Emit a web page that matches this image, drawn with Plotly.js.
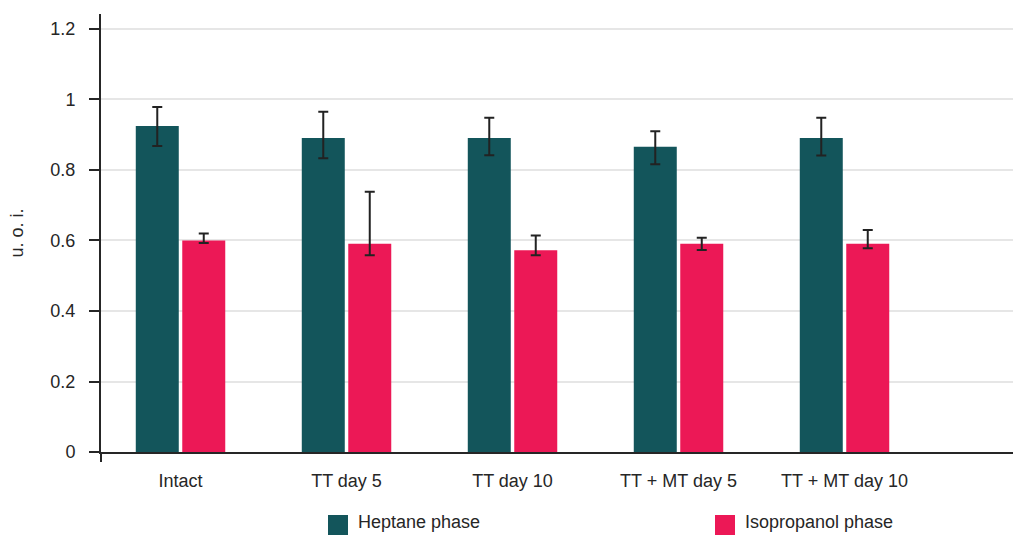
<!DOCTYPE html>
<html>
<head>
<meta charset="utf-8">
<script src="https://cdn.plot.ly/plotly-3.0.1.min.js"></script>
<style>
  html, body { margin: 0; padding: 0; background: #ffffff; }
  #chart { width: 1013px; height: 536px; }
</style>
</head>
<body>
<div id="chart"></div>
<script>
// ---- data ----
var categories = ['Intact', 'TT day 5', 'TT day 10', 'TT + MT day 5', 'TT + MT day 10'];

var heptane          = [0.925, 0.891, 0.891, 0.866, 0.891];
var heptaneErrPlus   = [0.054, 0.074, 0.057, 0.044, 0.057];
var heptaneErrMinus  = [0.057, 0.058, 0.049, 0.050, 0.050];

var isopropanol         = [0.600, 0.591, 0.572, 0.591, 0.591];
var isopropanolErrPlus  = [0.020, 0.147, 0.042, 0.017, 0.039];
var isopropanolErrMinus = [0.007, 0.033, 0.014, 0.018, 0.013];

var yTickVals  = [0, 0.2, 0.4, 0.6, 0.8, 1, 1.2];
var yTickText  = ['0', '0.2', '0.4', '0.6', '0.8', '1', '1.2'];
var seriesNames = ['Heptane phase', 'Isopropanol phase'];

// ---- styling ----
var TEAL = '#13555b';
var PINK = '#ec1856';
var INK  = '#262626';
var FONT = 'Liberation Sans, Arial, Helvetica, sans-serif';
var FS = 18;

// plot box in pixels (for placing the hand-drawn legend)
var PL = 101, PT = 14, PW = 912, PH = 438;
function px2x(px) { return (px - PL) / PW; }
function px2y(py) { return (PT + PH - py) / PH; }

function errStyle(plus, minus) {
  return {
    type: 'data', symmetric: false, array: plus, arrayminus: minus,
    color: '#222222', thickness: 2, width: 5, visible: true
  };
}

var colors = [TEAL, PINK];
var traces = [
  {
    type: 'bar', name: seriesNames[0], x: categories, y: heptane,
    marker: { color: colors[0], line: { width: 0 } },
    error_y: errStyle(heptaneErrPlus, heptaneErrMinus),
    showlegend: false
  },
  {
    type: 'bar', name: seriesNames[1], x: categories, y: isopropanol,
    marker: { color: colors[1], line: { width: 0 } },
    error_y: errStyle(isopropanolErrPlus, isopropanolErrMinus),
    showlegend: false
  }
];

// legend drawn as swatches + text below the plot
var legendSwatchLeft = [328, 715];
var shapes = [
  // y axis line continues a little below the x axis
  { type: 'line', xref: 'paper', yref: 'paper', x0: 0, x1: 0, y0: 0, y1: -10 / PH,
    line: { color: INK, width: 2 } }
];
var annotations = [];
for (var i = 0; i < seriesNames.length; i++) {
  var lx = legendSwatchLeft[i];
  shapes.push({
    type: 'rect', xref: 'paper', yref: 'paper',
    x0: px2x(lx), x1: px2x(lx + 20), y0: px2y(515), y1: px2y(535),
    fillcolor: colors[i], line: { width: 0 }
  });
  annotations.push({
    xref: 'paper', yref: 'paper', x: px2x(lx + 28), y: px2y(522),
    xanchor: 'left', yanchor: 'middle', showarrow: false,
    text: seriesNames[i], font: { family: FONT, size: FS, color: INK }
  });
}

var layout = {
  width: 1013,
  height: 536,
  margin: { l: PL, r: 1013 - PL - PW, t: PT, b: 536 - PT - PH, pad: 0 },
  paper_bgcolor: '#ffffff',
  plot_bgcolor: '#ffffff',
  font: { family: FONT, size: FS, color: INK },
  barmode: 'group',
  bargap: 0.44,
  bargroupgap: 0.075,
  showlegend: false,
  xaxis: {
    type: 'category',
    range: [-0.479, 5.015],
    showgrid: false,
    zeroline: false,
    showline: true, linecolor: INK, linewidth: 2,
    ticks: '', ticklabelstandoff: 11,
    tickfont: { family: FONT, size: FS, color: INK },
    fixedrange: true
  },
  yaxis: {
    range: [0, 1.2425],
    tickvals: yTickVals,
    ticktext: yTickText,
    showgrid: true, gridcolor: '#e6e6e6', gridwidth: 2,
    zeroline: false,
    showline: true, linecolor: INK, linewidth: 2,
    ticks: 'outside', ticklen: 10, tickwidth: 2, tickcolor: INK,
    ticklabelstandoff: 10,
    tickfont: { family: FONT, size: FS, color: INK },
    title: { text: 'u. o. i.', font: { family: FONT, size: FS, color: INK }, standoff: 22 },
    automargin: false,
    fixedrange: true
  },
  shapes: shapes,
  annotations: annotations
};

Plotly.newPlot('chart', traces, layout, { displayModeBar: false, staticPlot: true });
</script>
</body>
</html>
